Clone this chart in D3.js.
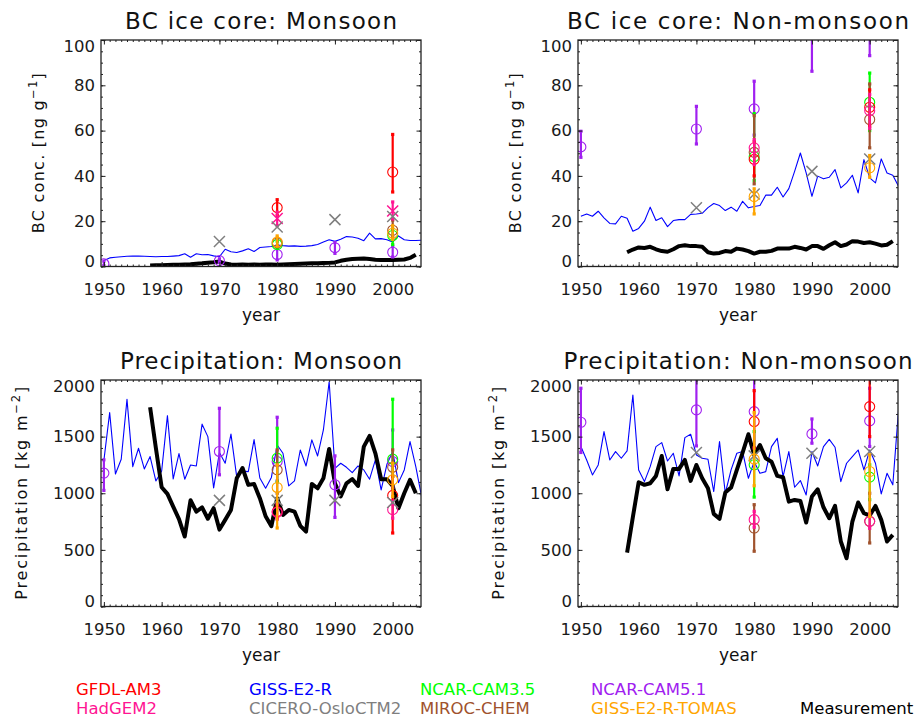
<!DOCTYPE html>
<html>
<head>
<meta charset="utf-8">
<script src="https://cdn.jsdelivr.net/npm/d3@7"></script>
<style>
  body { margin: 0; background: #ffffff; }
  svg text { font-family: "DejaVu Sans", "Liberation Sans", sans-serif; }
</style>
</head>
<body>
<svg id="chart" width="917" height="719"></svg>
<script>
// ---------------- data ----------------
const modelNames  = ["GFDL-AM3", "HadGEM2", "GISS-E2-R", "CICERO-OsloCTM2", "NCAR-CAM3.5",
                     "MIROC-CHEM", "NCAR-CAM5.1", "GISS-E2-R-TOMAS", "Measurement"];
const modelColors = ["#ff0000", "#ff1493", "#0000ff", "#7f7f7f", "#00ff00",
                     "#a0522d", "#a020f0", "#ffa500", "#000000"];

const panelTitles = ["BC ice core: Monsoon", "BC ice core: Non-monsoon",
                     "Precipitation: Monsoon", "Precipitation: Non-monsoon"];
const xTickLabels = [1950, 1960, 1970, 1980, 1990, 2000];
const bcTickLabels = [0, 20, 40, 60, 80, 100];
const prTickLabels = [0, 500, 1000, 1500, 2000];

// annual model years (GISS-E2-R) and ice-core record years
const gissYears = d3.range(1950, 2006);
const measYears = d3.range(1958, 2005);

// GISS-E2-R annual series
const gissBcMon = [2.7, 3.8, 4.1, 4.3, 4.5, 4.6, 4.6, 4.5, 4.4, 4.3,
  4.4, 4.4, 4.6, 4.8, 5.6, 4.1, 5.6, 5.2, 5.3, 4.7,
  4.3, 7.6, 6.5, 6.2, 6.9, 7.8, 6.6, 8.4, 8.6, 8.8,
  9.5, 9.2, 9.0, 9.1, 8.9, 9.0, 9.2, 9.7, 10.8, 11.8,
  11.1, 12.0, 13.2, 13.0, 12.5, 11.4, 14.7, 12.2, 12.3, 11.8,
  10.8, 13.5, 11.8, 11.5, 11.5, 11.6];
const gissBcNon = [22.2, 23.2, 22.2, 24.4, 21.5, 19.0, 18.8, 22.2, 21.3, 15.6,
  16.8, 20.0, 26.2, 20.3, 21.5, 17.6, 20.3, 20.7, 20.7, 23.0,
  23.2, 23.5, 26.0, 27.8, 26.9, 24.7, 26.2, 24.4, 28.8, 25.9,
  26.5, 26.9, 31.5, 31.5, 35.0, 30.7, 34.4, 42.0, 50.1, 41.3,
  31.0, 39.9, 38.7, 39.4, 42.8, 34.7, 36.9, 40.3, 32.5, 47.2,
  39.1, 36.9, 47.5, 41.3, 40.3, 35.4];
const gissPrMon = [1290, 1712, 1170, 1300, 1829, 1235, 1397, 1215, 1324, 1109,
  1197, 1685, 1126, 1350, 1124, 1250, 1241, 1610, 1500, 1047,
  1360, 1265, 1522, 1145, 1195, 1191, 1474, 1135, 1044, 1140,
  1426, 1353, 1065, 1109, 1382, 1241, 1471, 1329, 1559, 1985,
  1220, 1265, 1229, 1182, 1241, 1206, 1124, 1294, 1029, 1256,
  1368, 1094, 1206, 1456, 1235, 971];
const gissPrNon = [1412, 1294, 1162, 1250, 1544, 1294, 1368, 1309, 1374, 1868,
  1206, 1103, 1235, 1412, 1447, 1285, 1353, 1153, 1491, 1521,
  1338, 1309, 1300, 1015, 1456, 1000, 1206, 1353, 1368, 1132,
  1279, 1176, 1191, 1412, 1485, 1147, 1368, 1053, 1112, 985,
  1368, 1241, 1412, 1476, 1406, 1103, 1265, 1324, 1382, 1206,
  1382, 1265, 994, 1176, 1074, 1741];

// measurements (1958-2004)
const measBcMon = [0.4, 0.5,
  0.6, 0.7, 0.8, 0.8, 0.9, 1.0, 1.2, 1.4, 1.7, 1.9,
  2.2, 1.3, 0.9, 0.8, 0.9, 0.8, 0.9, 0.8, 0.9, 0.9,
  0.8, 0.9, 1.0, 1.1, 1.2, 1.3, 1.4, 1.4, 1.5, 1.6,
  1.8, 2.5, 3.0, 3.3, 3.4, 3.5, 3.3, 3.0, 2.9, 2.9,
  2.9, 3.0, 3.1, 3.8, 5.2];
const measBcNon = [6.3, 7.5,
  8.4, 8.2, 8.7, 7.6, 6.8, 6.5, 7.6, 9.0, 9.4, 9.0,
  9.0, 8.7, 6.3, 5.7, 6.0, 6.8, 6.5, 7.9, 7.5, 6.8,
  5.7, 6.5, 6.5, 6.9, 7.9, 7.9, 7.9, 8.7, 8.2, 7.5,
  9.0, 9.0, 7.8, 9.4, 10.7, 9.0, 9.7, 11.2, 11.0, 10.4,
  10.7, 10.1, 9.3, 9.6, 11.2];
const measPrMon = [1759, 1400,
  1053, 994, 882, 772, 618, 938, 838, 875, 775, 868,
  679, 765, 853, 1132, 1223, 1074, 1081, 956, 797, 709,
  956, 809, 853, 838, 712, 662, 1082, 1044, 1132, 1391,
  1088, 971, 1088, 1126, 1065, 1412, 1506, 1353, 1124, 1124,
  1065, 868, 1000, 1118, 1000];
const measPrNon = [476, 790,
  1097, 1074, 1088, 1153, 1329, 1035, 1215, 1215, 1294, 1109,
  1250, 1132, 1044, 818, 774, 1006, 1050, 1206, 1359, 1521,
  1338, 1426, 1309, 1279, 1153, 1141, 926, 941, 932, 741,
  971, 1035, 876, 779, 888, 574, 426, 750, 918, 824,
  803, 888, 765, 574, 632];

// decadal model means: [year, value, low, high]
const cam51BcMon  = [[1950, 1.2, 0.4, 2.4], [1970, 2.6, 1.8, 3.4], [1980, 5.3, 2.9, 8.1], [1990, 8.3, 5.8, 10.6], [2000, 6.3, 4.2, 9.0]];
const cam35BcMon  = [[1980, 9.7, 8.3, 11.2], [2000, 13.7, 9.7, 16.5]];
const mirocBcMon  = [[1980, 10.4, 9.0, 12.5], [2000, 16.0, 13.0, 20.5]];
const gfdlBcMon   = [[1980, 26.0, 22.5, 29.5], [2000, 41.7, 32.9, 58.3]];
const hadgemBcMon = [[1980, 21.2, 18.0, 24.0], [2000, 24.5, 21.0, 28.5]];
const ciceroBcMon = [[1970, 11.0], [1980, 17.4], [1990, 20.7], [2000, 22.1]];
const tomasBcMon  = [[1980, 10.8, 9.0, 13.5], [2000, 14.7, 12.0, 18.0]];

const cam51BcNon  = [[1950, 52.8, 48.2, 59.7], [1970, 60.7, 54.1, 70.7], [1980, 69.6, 58.0, 81.8], [1990, 112, 86.2, 138], [2000, 118, 93.1, 143]];
const cam35BcNon  = [[1980, 48.5, 37.9, 67.5], [2000, 72.5, 60.0, 85.4]];
const mirocBcNon  = [[1980, 50.4, 36.5, 66.6], [2000, 64.9, 52.4, 80.6]];
const gfdlBcNon   = [[1980, 47.3, 40.0, 55.0], [2000, 70.3, 62.0, 78.0]];
const hadgemBcNon = [[1980, 52.4, 45.0, 56.0], [2000, 68.8, 61.0, 76.0]];
const ciceroBcNon = [[1970, 25.9], [1980, 32.0], [1990, 42.0], [2000, 47.5]];
const tomasBcNon  = [[1980, 30.9, 23.2, 34.3], [2000, 43.6, 39.4, 49.0]];

const cam51PrMon  = [[1950, 1178, 1025, 1295], [1970, 1369, 1163, 1750], [1980, 1280, 1110, 1671], [1990, 1075, 787, 1330], [2000, 1280, 1050, 1559]];
const cam35PrMon  = [[1980, 1310, 1100, 1574], [2000, 1301, 1150, 1830]];
const mirocPrMon  = [[1980, 1207, 1000, 1383], [2000, 1230, 1050, 1383]];
const gfdlPrMon   = [[1980, 838, 780, 900], [2000, 981, 649, 1150]];
const hadgemPrMon = [[1980, 831, 770, 905], [2000, 855, 780, 930]];
const ciceroPrMon = [[1970, 937], [1980, 937], [1990, 937], [2000, 919]];
const tomasPrMon  = [[1980, 1051, 693, 1251], [2000, 1119, 972, 1266]];

const cam51PrNon  = [[1950, 1627, 1360, 1927], [1970, 1736, 1418, 2150], [1980, 1721, 1400, 2150], [1990, 1524, 1442, 1656], [2000, 1639, 1413, 1927]];
const cam35PrNon  = [[1980, 1251, 966, 1545], [2000, 1142, 943, 1251]];
const mirocPrNon  = [[1980, 693, 488, 899], [2000, 752, 561, 1000]];
const gfdlPrNon   = [[1980, 1633, 1400, 1906], [2000, 1765, 1500, 2100]];
const hadgemPrNon = [[1980, 767, 700, 840], [2000, 752, 690, 820]];
const ciceroPrNon = [[1970, 1360], [1980, 1330], [1990, 1354], [2000, 1369]];
const tomasPrNon  = [[1980, 1301, 1066, 1712], [2000, 1192, 796, 1339]];

// ---------------- layout ----------------
const svg = d3.select("#chart");
const axisColor = "#222222";

const panels = [
  { title: panelTitles[0], titleLen: 272, left: 101, top: 40, ymax: 100, ticks: bcTickLabels, minor: 5,
    ylab: ["BC conc. [ng g", "\u22121", "]"], ylabLen: 160, ylabX: 44,
    giss: gissBcMon, meas: measBcMon, hadSym: "x",
    pts: [cam51BcMon, cam35BcMon, mirocBcMon, gfdlBcMon, hadgemBcMon, ciceroBcMon, tomasBcMon] },
  { title: panelTitles[1], titleLen: 342, left: 578, top: 40, ymax: 100, ticks: bcTickLabels, minor: 5,
    ylab: ["BC conc. [ng g", "\u22121", "]"], ylabLen: 160, ylabX: 521,
    giss: gissBcNon, meas: measBcNon, hadSym: "o",
    pts: [cam51BcNon, cam35BcNon, mirocBcNon, gfdlBcNon, hadgemBcNon, ciceroBcNon, tomasBcNon] },
  { title: panelTitles[2], titleLen: 282, left: 101, top: 380, ymax: 2000, ticks: prTickLabels, minor: 100,
    ylab: ["Precipitation [kg m", "\u22122", "]"], ylabLen: 213, ylabX: 27,
    giss: gissPrMon, meas: measPrMon, hadSym: "o",
    pts: [cam51PrMon, cam35PrMon, mirocPrMon, gfdlPrMon, hadgemPrMon, ciceroPrMon, tomasPrMon] },
  { title: panelTitles[3], titleLen: 349, left: 578, top: 380, ymax: 2000, ticks: prTickLabels, minor: 100,
    ylab: ["Precipitation [kg m", "\u22122", "]"], ylabLen: 213, ylabX: 504,
    giss: gissPrNon, meas: measPrNon, hadSym: "o",
    pts: [cam51PrNon, cam35PrNon, mirocPrNon, gfdlPrNon, hadgemPrNon, ciceroPrNon, tomasPrNon] }
];
// model index for each entry of pts, in drawing order
const ptsModel = [6, 4, 5, 0, 1, 3, 7];

const W = 320, H = 226.5;

panels.forEach((p, pi) => {
  const x0 = p.left, x1 = p.left + W, y0 = p.top, y1 = p.top + H;
  const x = d3.scaleLinear().domain([1949.5, 2004.9]).range([x0, x1]);
  const y = d3.scaleLinear().domain([0, p.ymax]).range([y1, y0]);

  const g = svg.append("g");
  const clipId = "clip" + pi;
  g.append("clipPath").attr("id", clipId)
    .append("rect").attr("x", x0).attr("y", y0).attr("width", W).attr("height", H);
  const plot = g.append("g").attr("clip-path", `url(#${clipId})`);

  // GISS-E2-R annual line
  plot.append("path")
    .datum(p.giss)
    .attr("fill", "none").attr("stroke", modelColors[2]).attr("stroke-width", 1.1)
    .attr("stroke-linejoin", "round")
    .attr("d", d3.line().x((d, i) => x(gissYears[i])).y(d => y(d)));

  // measurement line
  plot.append("path")
    .datum(p.meas)
    .attr("fill", "none").attr("stroke", modelColors[8]).attr("stroke-width", 4)
    .attr("stroke-linejoin", "round")
    .attr("d", d3.line().x((d, i) => x(measYears[i])).y(d => y(d)));

  // decadal model values
  p.pts.forEach((data, k) => {
    const mi = ptsModel[k];
    const color = modelColors[mi];
    const mg = plot.append("g");
    const withBars = data.filter(d => d.length > 2);
    mg.selectAll("line.bar").data(withBars).join("line")
      .attr("class", "bar")
      .attr("x1", d => x(d[0])).attr("x2", d => x(d[0]))
      .attr("y1", d => y(d[2])).attr("y2", d => y(d[3]))
      .attr("stroke", color).attr("stroke-width", 2.2);
    mg.selectAll("rect.cap").data(withBars.flatMap(d => [[d[0], d[2]], [d[0], d[3]]])).join("rect")
      .attr("class", "cap")
      .attr("x", d => x(d[0]) - 1.6).attr("y", d => y(d[1]) - 1.6)
      .attr("width", 3.2).attr("height", 3.2).attr("fill", color);
    const isX = (mi === 3) || (mi === 1 && p.hadSym === "x");
    if (isX) {
      mg.selectAll("path.xm").data(data).join("path")
        .attr("class", "xm")
        .attr("transform", d => `translate(${x(d[0])},${y(d[1])})`)
        .attr("d", "M-5.5,-5.5L5.5,5.5M-5.5,5.5L5.5,-5.5")
        .attr("stroke", color).attr("stroke-width", 1.5).attr("fill", "none");
    } else {
      mg.selectAll("circle").data(data).join("circle")
        .attr("cx", d => x(d[0])).attr("cy", d => y(d[1])).attr("r", 5)
        .attr("fill", "none").attr("stroke", color).attr("stroke-width", 1.1);
    }
  });

  // axes: inward ticks on all four sides
  const styleAxis = sel => {
    sel.select(".domain").remove();
    sel.selectAll("line").attr("stroke", axisColor).attr("stroke-width", 1);
    sel.selectAll("text").attr("fill", "#1a1a1a").attr("font-size", 16.5)
      .attr("font-family", "'DejaVu Sans', 'Liberation Sans', sans-serif");
  };
  const minorYears = d3.range(1950, 2005);
  const minorY = d3.range(0, p.ymax + 0.001, p.minor);

  g.append("g").attr("transform", `translate(0,${y1})`)
    .call(d3.axisBottom(x).tickValues(minorYears).tickSizeInner(-2).tickSizeOuter(0).tickFormat(""))
    .call(styleAxis);
  g.append("g").attr("transform", `translate(0,${y1})`)
    .call(d3.axisBottom(x).tickValues(xTickLabels).tickSizeInner(-4.5).tickSizeOuter(0)
      .tickPadding(17).tickFormat(d3.format("d")))
    .call(styleAxis);
  g.append("g").attr("transform", `translate(0,${y0})`)
    .call(d3.axisTop(x).tickValues(minorYears).tickSizeInner(-2).tickSizeOuter(0).tickFormat(""))
    .call(styleAxis);
  g.append("g").attr("transform", `translate(0,${y0})`)
    .call(d3.axisTop(x).tickValues(xTickLabels).tickSizeInner(-4.5).tickSizeOuter(0).tickFormat(""))
    .call(styleAxis);

  g.append("g").attr("transform", `translate(${x0},0)`)
    .call(d3.axisLeft(y).tickValues(minorY).tickSizeInner(-2).tickSizeOuter(0).tickFormat(""))
    .call(styleAxis);
  g.append("g").attr("transform", `translate(${x0},0)`)
    .call(d3.axisLeft(y).tickValues(p.ticks).tickSizeInner(-4.5).tickSizeOuter(0)
      .tickPadding(6).tickFormat(d3.format("d")))
    .call(styleAxis)
    .call(sel => sel.selectAll("text")
      .attr("transform", d => d === 0 ? "translate(0,-5)" : (d === p.ymax ? "translate(0,6)" : null)));
  g.append("g").attr("transform", `translate(${x1},0)`)
    .call(d3.axisRight(y).tickValues(minorY).tickSizeInner(-2).tickSizeOuter(0).tickFormat(""))
    .call(styleAxis);
  g.append("g").attr("transform", `translate(${x1},0)`)
    .call(d3.axisRight(y).tickValues(p.ticks).tickSizeInner(-4.5).tickSizeOuter(0).tickFormat(""))
    .call(styleAxis);

  // frame
  g.append("rect").attr("x", x0).attr("y", y0).attr("width", W).attr("height", H)
    .attr("fill", "none").attr("stroke", axisColor).attr("stroke-width", 1.3);

  // title
  g.append("text")
    .attr("x", (x0 + x1) / 2).attr("y", y0 - 11)
    .attr("text-anchor", "middle").attr("font-size", 23).attr("fill", "#111")
    .attr("textLength", p.titleLen).attr("lengthAdjust", "spacing")
    .text(p.title);

  // x label
  g.append("text")
    .attr("x", (x0 + x1) / 2).attr("y", y1 + 54)
    .attr("text-anchor", "middle").attr("font-size", 17).attr("fill", "#111")
    .text("year");

  // y label with superscript exponent
  const yl = g.append("text")
    .attr("transform", `translate(${p.ylabX},${(y0 + y1) / 2}) rotate(-90)`)
    .attr("text-anchor", "middle").attr("font-size", 16).attr("fill", "#111")
    .attr("textLength", p.ylabLen).attr("lengthAdjust", "spacing");
  yl.append("tspan").text(p.ylab[0]);
  yl.append("tspan").attr("dy", -7).attr("font-size", 11.5).text(p.ylab[1]);
  yl.append("tspan").attr("dy", 7).text(p.ylab[2]);
});

// ---------------- legend ----------------
const legendCols = [76, 249, 420, 591, 800];
const legendLayout = [
  [0, 0, 0], [1, 0, 1],
  [2, 1, 0], [3, 1, 1],
  [4, 2, 0], [5, 2, 1],
  [6, 3, 0], [7, 3, 1],
  [8, 4, 1]
];
svg.append("g").selectAll("text").data(legendLayout).join("text")
  .attr("x", d => legendCols[d[1]])
  .attr("y", d => d[2] === 0 ? 695 : 714)
  .attr("font-size", 16.5)
  .attr("fill", d => modelColors[d[0]])
  .text(d => modelNames[d[0]]);
</script>
</body>
</html>
